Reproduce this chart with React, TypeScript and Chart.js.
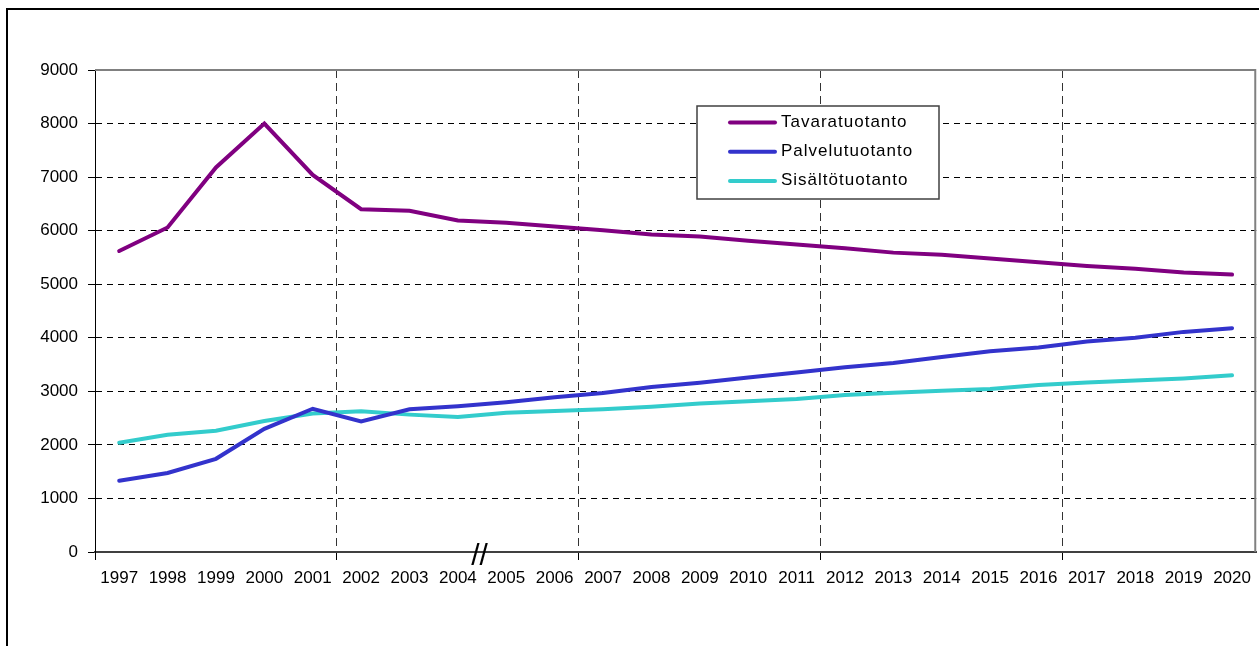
import React, { useEffect, useRef } from "react";
import { Chart, registerables } from "chart.js";

Chart.register(...registerables);

const years = [
  "1997", "1998", "1999", "2000", "2001", "2002", "2003", "2004", "2005", "2006", "2007", "2008",
  "2009", "2010", "2011", "2012", "2013", "2014", "2015", "2016", "2017", "2018", "2019", "2020",
];
const tavaratuotanto = [
  5620, 6060, 7180, 8000, 7040, 6400, 6370, 6190, 6150, 6080, 6010, 5930,
  5890, 5810, 5740, 5670, 5590, 5550, 5480, 5410, 5340, 5290, 5220, 5180,
];
const palvelutuotanto = [
  1330, 1475, 1740, 2300, 2675, 2440, 2665, 2720, 2795, 2890, 2970, 3080,
  3160, 3260, 3350, 3450, 3530, 3640, 3750, 3820, 3930, 4000, 4110, 4180,
];
const sisaltotuotanto = [
  2040, 2190, 2265, 2445, 2585, 2630, 2565, 2520, 2600, 2635, 2665, 2710,
  2775, 2815, 2855, 2930, 2975, 3010, 3045, 3120, 3165, 3200, 3240, 3300,
];
const seriesNames = ["Tavaratuotanto", "Palvelutuotanto", "Sisältötuotanto"];
const seriesColors = ["#800080", "#3333CC", "#33CCCC"];
const yMin = 0;
const yMax = 9000;
const yStep = 1000;
const gridEvery = 5;
const breakMark = "//";
const breakAfterIndex = 7;

const FONT = '"Liberation Sans", Arial, sans-serif';

const framePlugin = {
  id: "plotFrame",
  afterDatasetsDraw(chart: any) {
    const { ctx, chartArea } = chart;
    ctx.save();
    ctx.strokeStyle = "#808080";
    ctx.lineWidth = 2;
    ctx.beginPath();
    ctx.moveTo(chartArea.left, chartArea.top);
    ctx.lineTo(chartArea.right - 1, chartArea.top);
    ctx.lineTo(chartArea.right - 1, chartArea.bottom);
    ctx.stroke();
    ctx.restore();
  },
};

const boxLegendPlugin = {
  id: "boxLegend",
  afterDraw(chart: any) {
    const { ctx, chartArea } = chart;
    const x0 = chartArea.left + 602;
    const y0 = chartArea.top + 36;
    const w = 242;
    const h = 93;
    ctx.save();
    ctx.fillStyle = "#ffffff";
    ctx.fillRect(x0, y0, w, h);
    ctx.strokeStyle = "#404040";
    ctx.lineWidth = 1.5;
    ctx.strokeRect(x0, y0, w, h);
    chart.data.datasets.forEach((ds: any, i: number) => {
      const y = y0 + 16.5 + i * 29.2;
      ctx.strokeStyle = ds.borderColor;
      ctx.lineWidth = 4;
      ctx.lineCap = "round";
      ctx.beginPath();
      ctx.moveTo(x0 + 33, y);
      ctx.lineTo(x0 + 78, y);
      ctx.stroke();
      ctx.fillStyle = "#000000";
      ctx.font = `17px ${FONT}`;
      (ctx as any).letterSpacing = "1px";
      ctx.textAlign = "left";
      ctx.textBaseline = "alphabetic";
      ctx.fillText(ds.label, x0 + 84, y + 4.5);
    });
    ctx.restore();
  },
};

const breakPlugin = {
  id: "axisBreak",
  afterDraw(chart: any) {
    const { ctx, chartArea } = chart;
    const xs = chart.scales.x;
    const x =
      (xs.getPixelForValue(breakAfterIndex) + xs.getPixelForValue(breakAfterIndex + 1)) / 2 - 2.5;
    ctx.save();
    ctx.fillStyle = "#000000";
    ctx.font = `30px ${FONT}`;
    ctx.textAlign = "center";
    ctx.textBaseline = "alphabetic";
    ctx.fillText(breakMark, x, chartArea.bottom + 12.5);
    ctx.restore();
  },
};

export default function App() {
  const canvasRef = useRef<HTMLCanvasElement | null>(null);

  useEffect(() => {
    if (!canvasRef.current) return;
    const values = [tavaratuotanto, palvelutuotanto, sisaltotuotanto];
    const chart = new Chart(canvasRef.current, {
      type: "line",
      data: {
        labels: years,
        datasets: seriesNames.map((name, i) => ({
          label: name,
          data: values[i],
          borderColor: seriesColors[i],
          backgroundColor: seriesColors[i],
          borderWidth: 4,
          pointRadius: 0,
          pointHoverRadius: 0,
          tension: 0,
          fill: false,
          borderCapStyle: "round",
        })),
      },
      options: {
        animation: false,
        responsive: false,
        devicePixelRatio: 1,
        layout: { padding: { left: 0, top: 60, right: 1, bottom: 0 } },
        plugins: {
          legend: { display: false },
          tooltip: { enabled: false },
        },
        scales: {
          x: {
            type: "category",
            offset: true,
            grid: {
              offset: true,
              drawOnChartArea: true,
              lineWidth: 1,
              color: (c: any) =>
                c.index % gridEvery === 0 && c.index !== 0 && c.index !== years.length
                  ? "#333333"
                  : "transparent",
              tickColor: (c: any) => (c.index % gridEvery === 0 ? "#000000" : "transparent"),
              tickLength: 8,
              tickWidth: 1,
            },
            border: { display: true, color: "#404040", width: 2, dash: [8, 5] },
            ticks: {
              autoSkip: false,
              maxRotation: 0,
              minRotation: 0,
              color: "#000000",
              font: { family: FONT, size: 17 },
              padding: 8,
            },
            afterFit: (scale: any) => {
              scale.height = 94;
            },
          },
          y: {
            type: "linear",
            min: yMin,
            max: yMax,
            grid: {
              lineWidth: 1,
              color: (c: any) =>
                c.tick && c.tick.value > yMin && c.tick.value < yMax ? "#000000" : "transparent",
              tickColor: "#000000",
              tickLength: 7,
              tickWidth: 1,
            },
            border: { display: true, color: "#000000", width: 1, dash: [6, 5] },
            ticks: {
              stepSize: yStep,
              color: "#000000",
              font: { family: FONT, size: 17 },
              padding: 10,
              callback: (v: any) => String(v),
            },
            afterFit: (scale: any) => {
              scale.width = 87;
            },
          },
        },
      },
      plugins: [framePlugin, boxLegendPlugin, breakPlugin],
    });
    return () => chart.destroy();
  }, []);

  return (
    <div
      style={{
        position: "absolute",
        left: 6,
        top: 8,
        width: 1251,
        height: 636,
        borderLeft: "2px solid #000",
        borderTop: "2px solid #000",
        background: "#fff",
      }}
    >
      <canvas ref={canvasRef} width={1251} height={636} style={{ display: "block" }} />
    </div>
  );
}
